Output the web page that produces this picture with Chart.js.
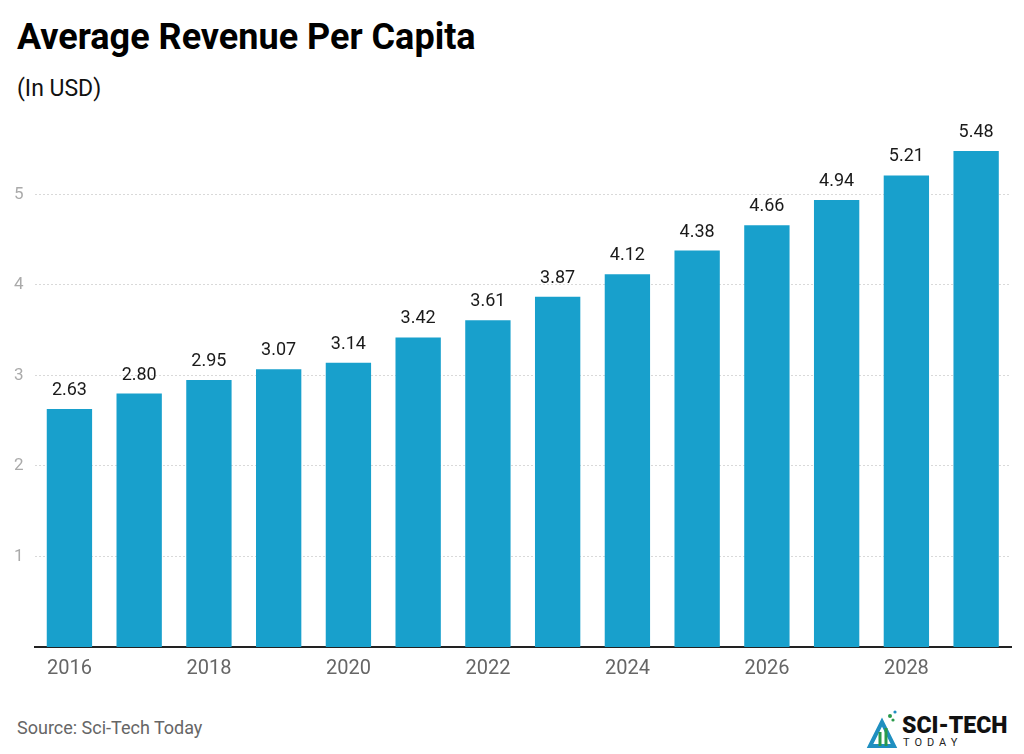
<!DOCTYPE html>
<html>
<head>
<meta charset="utf-8">
<script src="https://cdn.jsdelivr.net/npm/chart.js@4/dist/chart.umd.min.js"></script>
<style>
  html, body { margin: 0; padding: 0; background: #fff; }
  body { width: 1024px; height: 754px; position: relative; overflow: hidden; font-family: Roboto, "Noto Sans", sans-serif; }
  .title { position: absolute; left: 17px; top: 16px; font-size: 36px; font-weight: 700; color: #000; white-space: nowrap; }
  .subtitle { position: absolute; left: 17px; top: 75px; font-size: 23px; color: #111; }
  .source { position: absolute; left: 17px; top: 717px; font-size: 18px; color: #666; }
  .wrap { position: absolute; left: 0; top: 119px; width: 1024px; height: 572px; }
  .logo { position: absolute; left: 866px; top: 706px; }
</style>
</head>
<body>
<div class="title">Average Revenue Per Capita</div>
<div class="subtitle">(In USD)</div>
<div class="wrap"><canvas id="chart"></canvas></div>
<div class="source">Source: Sci-Tech Today</div>
<svg class="logo" width="158" height="44" viewBox="0 0 158 44">
  <path d="M4 40 L16 16 L28 40 Z" fill="none" stroke="#1f8fc0" stroke-width="4"/>
  <path d="M14 40 L14 26 M20 40 L20 22" stroke="#2a9a4a" stroke-width="3"/>
  <circle cx="24" cy="10" r="2" fill="#2a9a4a"/>
  <circle cx="29" cy="6" r="1.6" fill="#1f8fc0"/>
  <circle cx="27" cy="14" r="1.6" fill="#2a9a4a"/>
  <text x="36" y="27" font-family="Roboto, sans-serif" font-weight="900" font-size="23" fill="#111">SCI-TECH</text>
  <text x="37" y="40" font-family="Roboto, sans-serif" font-size="11" letter-spacing="5" fill="#222">TODAY</text>
</svg>
<script>
const years = ["2016", "2017", "2018", "2019", "2020", "2021", "2022", "2023", "2024", "2025", "2026", "2027", "2028", "2029"];
const revenue = [2.63, 2.80, 2.95, 3.07, 3.14, 3.42, 3.61, 3.87, 4.12, 4.38, 4.66, 4.94, 5.21, 5.48];
const yTicks = [1, 2, 3, 4, 5];

const barColor = "#18a0cc";

// value labels above each bar
const valueLabels = {
  id: "valueLabels",
  afterDatasetsDraw(chart) {
    const ctx = chart.ctx;
    const meta = chart.getDatasetMeta(0);
    ctx.save();
    ctx.font = "18px Roboto, sans-serif";
    ctx.fillStyle = "#1a1a1a";
    ctx.textAlign = "center";
    ctx.textBaseline = "alphabetic";
    meta.data.forEach((bar, i) => {
      ctx.fillText(revenue[i].toFixed(2), bar.x, bar.y - 14);
    });
    ctx.restore();
  }
};

new Chart(document.getElementById("chart"), {
  type: "bar",
  data: {
    labels: years,
    datasets: [{
      data: revenue,
      backgroundColor: barColor,
      borderWidth: 0,
      categoryPercentage: 1,
      barPercentage: 0.65
    }]
  },
  options: {
    responsive: true,
    maintainAspectRatio: false,
    animation: false,
    layout: { padding: { top: 0, right: 13, left: 3, bottom: 0 } },
    plugins: {
      legend: { display: false },
      tooltip: { enabled: false }
    },
    scales: {
      x: {
        grid: { display: false, drawTicks: false },
        border: { display: true, color: "#222", width: 2 },
        ticks: {
          autoSkip: false,
          maxRotation: 0,
          padding: 10,
          color: "#666",
          font: { family: "Roboto", size: 20 },
          callback(value, index) {
            return index % 2 === 0 ? years[index] : "";
          }
        }
      },
      y: {
        min: 0,
        max: 5.6,
        afterBuildTicks(axis) {
          axis.ticks = yTicks.map((v) => ({ value: v }));
        },
        grid: { color: "#d9d9d9", drawTicks: false, lineWidth: 1 },
        border: { display: false, dash: [2, 2] },
        ticks: {
          padding: 11,
          color: "#aaa",
          font: { family: "Roboto", size: 17 }
        }
      }
    }
  },
  plugins: [valueLabels]
});
</script>
</body>
</html>
